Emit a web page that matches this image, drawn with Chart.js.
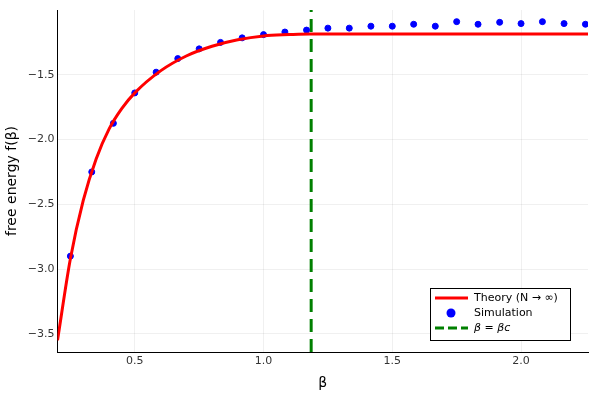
<!DOCTYPE html>
<html>
<head>
<meta charset="utf-8">
<script src="https://cdn.jsdelivr.net/npm/chart.js@4"></script>
<style>
  body { margin: 0; background: #fff; }
</style>
</head>
<body>
<canvas id="c" width="600" height="400"></canvas>
<script>
// curva teórica
var theoryBeta = [0.2, 0.25, 0.3, 0.35, 0.4, 0.45, 0.5, 0.6, 0.7, 0.8, 0.9, 1.0, 1.1, 1.18, 2.26];
var theoryF = [-3.55, -2.92, -2.47, -2.15, -1.92, -1.76, -1.64, -1.47, -1.355, -1.28, -1.23, -1.2, -1.19, -1.185, -1.185];

// puntos de simulación
var simBeta = [0.25, 0.333, 0.417, 0.5, 0.583, 0.667, 0.75, 0.833, 0.917, 1.0, 1.083, 1.167, 1.25, 1.333, 1.417, 1.5, 1.583, 1.667, 1.75, 1.833, 1.917, 2.0, 2.083, 2.167, 2.25];
var simF = [-2.9, -2.25, -1.875, -1.64, -1.48, -1.375, -1.3, -1.25, -1.215, -1.19, -1.17, -1.155, -1.14, -1.14, -1.125, -1.125, -1.11, -1.125, -1.09, -1.11, -1.095, -1.105, -1.09, -1.105, -1.11];

var betaC = 1.185;
var xTicks = [0.5, 1.0, 1.5, 2.0];
var yTicks = [-3.5, -3.0, -2.5, -2.0, -1.5];

function pts(xs, ys) {
    return xs.map(function (x, i) { return { x: x, y: ys[i] }; });
}

var legendItems = [
    { label: "Theory (N → ∞)", type: "line", color: "red" },
    { label: "Simulation", type: "dot", color: "blue" },
    { label: "β = βc", type: "dash", color: "green", italic: true }
];

var boxLegend = {
    id: "boxLegend",
    afterDraw: function (chart) {
        var ctx = chart.ctx, a = chart.chartArea;
        var w = 140, h = 52, x = a.right - w - 18, y = a.bottom - h - 12;
        ctx.save();
        ctx.fillStyle = "#fff";
        ctx.fillRect(x, y, w, h);
        ctx.strokeStyle = "#000";
        ctx.lineWidth = 1;
        ctx.strokeRect(x + 0.5, y + 0.5, w, h);
        legendItems.forEach(function (it, i) {
            var cy = y + 10 + i * 15;
            ctx.strokeStyle = it.color;
            ctx.fillStyle = it.color;
            ctx.lineWidth = 3;
            if (it.type === "line" || it.type === "dash") {
                ctx.setLineDash(it.type === "dash" ? [9, 4] : []);
                ctx.beginPath();
                ctx.moveTo(x + 5, cy);
                ctx.lineTo(x + 38, cy);
                ctx.stroke();
                ctx.setLineDash([]);
            } else {
                ctx.beginPath();
                ctx.arc(x + 21, cy, 4.5, 0, Math.PI * 2);
                ctx.fill();
            }
            ctx.fillStyle = "#000";
            ctx.font = (it.italic ? "italic " : "") + "11px 'DejaVu Sans'";
            ctx.textBaseline = "middle";
            ctx.fillText(it.label, x + 44, cy);
        });
        ctx.restore();
    }
};

new Chart(document.getElementById("c"), {
    type: "scatter",
    data: {
        datasets: [
            {
                label: "Theory",
                type: "line",
                data: pts(theoryBeta, theoryF),
                borderColor: "red",
                borderWidth: 3,
                pointRadius: 0,
                cubicInterpolationMode: "monotone"
            },
            {
                label: "Simulation",
                data: pts(simBeta, simF),
                backgroundColor: "blue",
                borderColor: "blue",
                pointRadius: 3
            },
            {
                label: "beta_c",
                type: "line",
                data: [{ x: betaC, y: -3.64 }, { x: betaC, y: -1.0 }],
                borderColor: "green",
                borderWidth: 3,
                borderDash: [13, 7],
                pointRadius: 0
            }
        ]
    },
    options: {
        responsive: false,
        animation: false,
        layout: { padding: { right: 12, top: 10, bottom: 4 } },
        plugins: { legend: { display: false }, tooltip: { enabled: false } },
        scales: {
            x: {
                type: "linear",
                min: 0.2,
                max: 2.26,
                afterBuildTicks: function (s) { s.ticks = xTicks.map(function (v) { return { value: v }; }); },
                ticks: { color: "#333", font: { size: 11, family: "DejaVu Sans" }, callback: function (v) { return v.toFixed(1); } },
                grid: { color: "rgba(0,0,0,0.06)", drawTicks: false },
                border: { color: "#000" },
                title: { display: true, text: "β", font: { size: 14, family: "DejaVu Sans" }, color: "#000" }
            },
            y: {
                min: -3.64,
                max: -1.0,
                afterBuildTicks: function (s) { s.ticks = yTicks.map(function (v) { return { value: v }; }); },
                ticks: { color: "#333", font: { size: 11, family: "DejaVu Sans" }, callback: function (v) { return "\u2212" + Math.abs(v).toFixed(1); } },
                grid: { color: "rgba(0,0,0,0.06)", drawTicks: false },
                border: { color: "#000" },
                title: { display: true, text: "free energy f(β)", font: { size: 14, family: "DejaVu Sans" }, color: "#000" }
            }
        }
    },
    plugins: [boxLegend]
});
</script>
</body>
</html>
